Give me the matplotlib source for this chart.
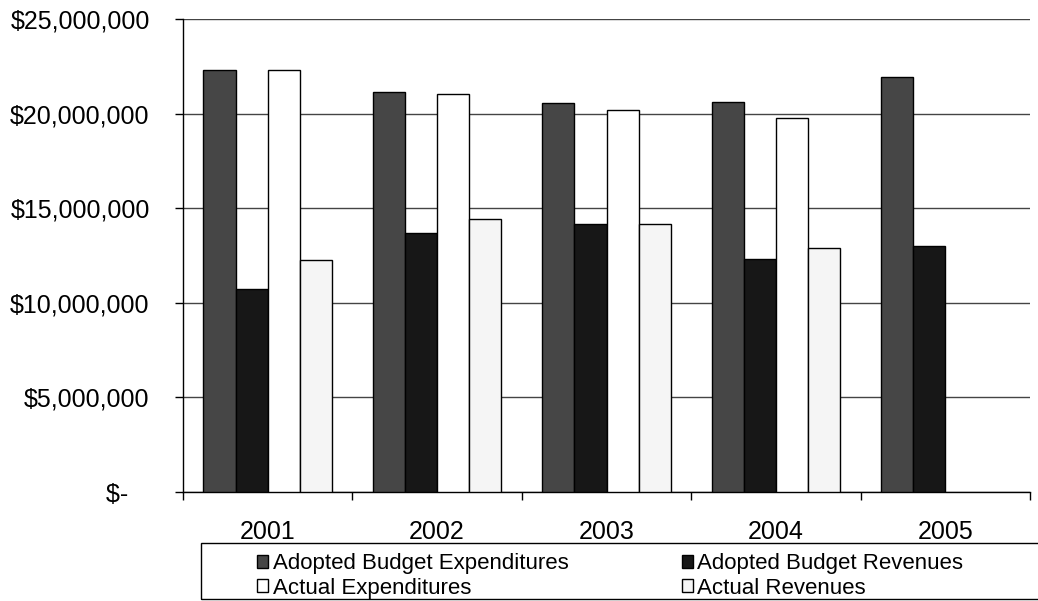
import matplotlib
matplotlib.use("Agg")
import matplotlib.pyplot as plt
from matplotlib.patches import Rectangle
import numpy as np
from matplotlib.ticker import FuncFormatter, FixedLocator

plt.rcParams['font.family'] = ['Liberation Sans', 'DejaVu Sans']

years = ["2001", "2002", "2003", "2004", "2005"]
adopted_exp = [22.33e6, 21.16e6, 20.54e6, 20.60e6, 21.95e6]
adopted_rev = [10.73e6, 13.69e6, 14.16e6, 12.33e6, 13.02e6]
actual_exp = [22.33e6, 21.04e6, 20.19e6, 19.77e6, np.nan]
actual_rev = [12.26e6, 14.43e6, 14.18e6, 12.90e6, np.nan]

series_names = ["Adopted Budget Expenditures", "Adopted Budget Revenues",
                "Actual Expenditures", "Actual Revenues"]
series_values = [adopted_exp, adopted_rev, actual_exp, actual_rev]
series_colors = ["#464646", "#171717", "#ffffff", "#f5f5f5"]

W, H = 1038, 601
fig = plt.figure(figsize=(W / 100, H / 100), dpi=100)
ax = fig.add_axes([183 / W, 1 - 492 / H, (1030 - 183) / W, (492 - 19) / H])

x = np.arange(len(years))
width = 0.19
handles = []
for i, (name, vals, col) in enumerate(zip(series_names, series_values, series_colors)):
    offs = (i - 1.5) * width
    b = ax.bar(x + offs, vals, width, color=col, edgecolor="black", linewidth=1.0,
               label=name, zorder=3)
    handles.append(b)

ax.set_xlim(-0.5, len(years) - 0.5)
ax.set_ylim(0, 25e6)
ax.set_yticks(np.arange(0, 25e6 + 1, 5e6))


def money(v, pos):
    if v == 0:
        return "$-   "
    return "${:,.0f}".format(v)


ax.yaxis.set_major_formatter(FuncFormatter(money))
ax.set_xticks(x)
ax.set_xticklabels(years)
ax.xaxis.set_minor_locator(FixedLocator(np.arange(-0.5, len(years), 1.0)))
ax.tick_params(axis="x", which="major", length=0, pad=20, labelsize=18)
ax.tick_params(axis="x", which="minor", length=6, width=1, direction="out")
ax.tick_params(axis="y", length=6, width=1, direction="out", pad=18, labelsize=18)

ax.grid(axis="y", color="#444444", linewidth=1.0, zorder=0)
ax.set_axisbelow(True)
for side in ("top", "right"):
    ax.spines[side].set_visible(False)
ax.spines["left"].set_linewidth(1.0)
ax.spines["bottom"].set_linewidth(1.0)

# legend box frame
fig.patches.append(Rectangle((201 / W, 1 - 599 / H), (1045 - 201) / W, (599 - 543) / H,
                             transform=fig.transFigure, fill=False,
                             edgecolor="black", linewidth=1.0))

# row-major order: two columns, filled column by column
order = [0, 2, 1, 3]
leg = fig.legend(handles=[handles[i] for i in order],
                 labels=[series_names[i] for i in order], ncol=2,
                 loc="center left", bbox_to_anchor=(257 / W, 1 - 576 / H),
                 fontsize=16, frameon=False,
                 handlelength=0.5, handleheight=0.5,
                 handletextpad=0.2, labelspacing=0.15, borderaxespad=0.0,
                 borderpad=0.0, columnspacing=5.1)

fig.savefig("out.png", dpi=100)
